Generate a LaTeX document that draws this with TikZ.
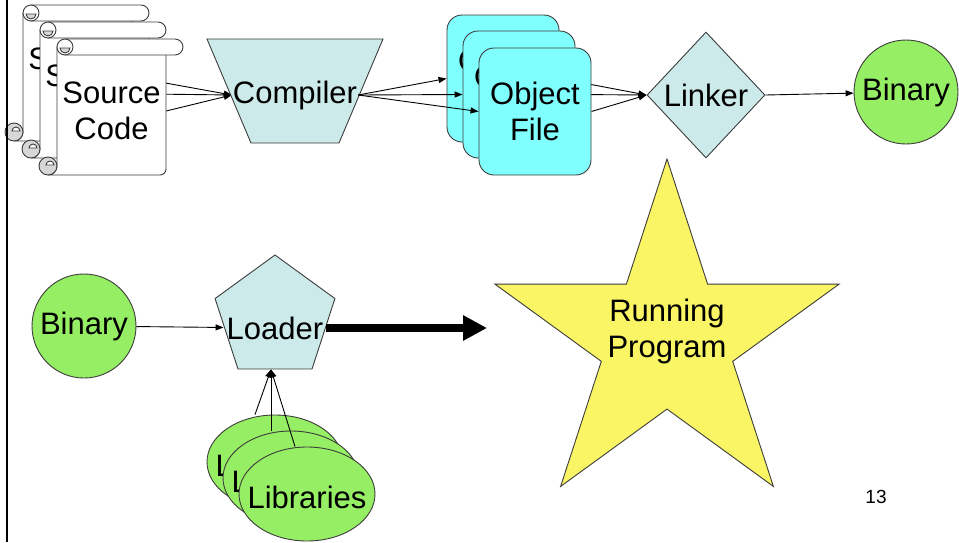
\documentclass[tikz,border=0pt]{standalone}
\usepackage{fontspec}
\setmainfont{Liberation Sans}
\usetikzlibrary{shapes.geometric,arrows.meta}
\definecolor{lblue}{RGB}{204,234,234}
\definecolor{objcyan}{RGB}{128,255,255}
\definecolor{bingreen}{RGB}{150,238,100}
\definecolor{staryellow}{RGB}{250,245,100}
\definecolor{curlgray}{RGB}{215,215,215}
\definecolor{outl}{RGB}{60,60,60}
\pgfdeclarelayer{bg}
\pgfsetlayers{bg,main}
\newcommand\srcscroll[3]{%
 \draw[shapeline,fill=white] ({#2-9},{#3+136}) -- ({#2+103},{#3+136}) arc[start angle=90,end angle=0,radius=6] -- ({#2+109},{#3+8}) -- ({#2},{#3+8}) -- ({#2},{#3+127}) arc[start angle=0,end angle=90,radius=9] -- cycle;
 \draw[shapeline,fill=white] ({#2+8},{#3}) -- ({#2+118},{#3}) arc[start angle=-90,end angle=90,radius=8] -- ({#2+8},{#3+16}) -- cycle;
 \draw[shapeline,fill=white] ({#2+8},{#3+8}) circle[radius=8];
 \draw[shapeline,fill=curlgray] ({#2+3},{#3+9}) arc[start angle=180,end angle=0,radius=5] -- cycle;
 \draw[shapeline,fill=curlgray] ({#2-9},{#3+127}) circle[radius=9];
 \draw[shapeline,fill=white] ({#2-11},{#3+126}) arc[start angle=180,end angle=360,radius=4] -- cycle;
 \node[scrollbody] (#1) at ({#2+54.5},{#3+72}) {Source\\Code};
}
\begin{document}
\begin{tikzpicture}[x=1pt,y=-1pt,
  font=\fontsize{31}{36}\selectfont,
  shapeline/.style={draw=outl, line width=0.9pt},
  conn/.style={draw=black, line width=0.9pt, -{Triangle[length=8pt,width=6pt]}},
  bigarrow/.style={draw=black, line width=8pt, -{Triangle[length=24pt,width=24pt]}},
  txt/.style={align=center, inner sep=1pt},
  scrollbody/.style={rectangle, minimum width=109pt, minimum height=128pt, align=center, inner sep=0pt},
  objbox/.style={shapeline, fill=objcyan, rounded corners=15pt, minimum width=112pt, minimum height=127pt, align=center, inner sep=0pt},
  libell/.style={shapeline, ellipse, fill=bingreen, minimum width=136pt, minimum height=94pt, inner sep=0pt},
  bincirc/.style={shapeline, circle, fill=bingreen, minimum size=104pt, inner sep=0pt},
  bluefill/.style={shapeline, fill=lblue}]
\useasboundingbox (0,0) rectangle (959,542);

% source scrolls
\srcscroll{src1}{23}{5}
\srcscroll{src2}{40}{22}
\srcscroll{src3}{57}{39}

% compiler
\draw[bluefill] (207,39) -- (383,39) -- (339,143) -- (251,143) -- cycle;
\node[txt] (compiler) at (295,95) {Compiler};

% object files
\node[objbox] (obj1) at (503,78.5) {Object\\File};
\node[objbox] (obj2) at (519,94.5) {Object\\File};
\node[objbox] (obj3) at (535,111.5) {Object\\File};

% linker
\node[bluefill, diamond, minimum width=118pt, minimum height=126pt, inner sep=0pt] (linker) at (706,95) {Linker};

% binary (top)
\node[bincirc] (binA) at (906,92) {Binary};

% binary (bottom)
\node[bincirc] (binB) at (84,326) {Binary};

% loader
\node[bluefill, regular polygon, regular polygon sides=5, minimum size=126pt, inner sep=0pt] (loader) at (275,318) {};
\node[txt, inner sep=3pt] (loadertxt) at (275,328) {Loader};

% running program
\node[shapeline, fill=staryellow, star, star points=5, star point ratio=2.62, minimum size=362pt, inner sep=0pt] (star) at (667,340) {};
\node[txt] (runtxt) at (667,331) {Running\\Program};
\coordinate (runend) at (487,328);

% libraries
\node[libell] (lib1) at (275,462) {};
\node[txt] (lib1t) at (275,465) {Libraries};
\node[libell] (lib2) at (291,478) {};
\node[txt] (lib2t) at (291,481) {Libraries};
\node[libell] (lib3) at (307,494) {};
\node[txt] (lib3t) at (307,497) {Libraries};

% page number
\node[inner sep=0pt, font=\fontsize{19}{22}\selectfont] (pagenum) at (876,497) {13};

% left border
\draw[line width=2.5pt] (7,0) -- (7,542);

% connectors behind shapes
\begin{pgfonlayer}{bg}
\draw[conn] (src1.east) -- (compiler.west);
\draw[conn] (src2.east) -- (compiler.west);
\draw[conn] (src3.east) -- (compiler.west);
\draw[conn] (obj1.east) -- (linker.west);
\draw[conn] (obj2.east) -- (linker.west);
\draw[conn] (obj3.east) -- (linker.west);
\end{pgfonlayer}

% connectors on top
\draw[conn] (compiler.east) -- (obj1.west);
\draw[conn] (compiler.east) -- (obj2.west);
\draw[conn] (compiler.east) -- (obj3.west);
\draw[conn] (linker.east) -- (binA);
\draw[conn] (binB) -- (loadertxt);
\draw[bigarrow] (loadertxt.east) -- (runend);
\draw[conn] ([xshift=-20pt]lib1.north) -- ([xshift=-4pt]loader.side 3);
\draw[conn] ([xshift=-20pt]lib2.north) -- ([xshift=-4pt]loader.side 3);
\draw[conn] ([xshift=-12pt]lib3.north) -- ([xshift=-4pt]loader.side 3);
\end{tikzpicture}
\end{document}
